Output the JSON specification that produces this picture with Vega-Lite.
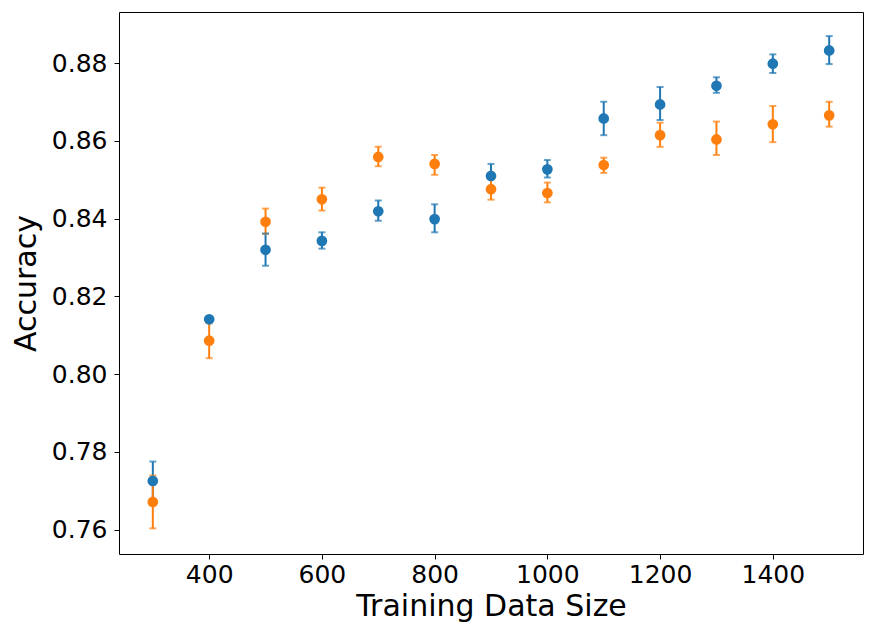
{
  "$schema": "https://vega.github.io/schema/vega-lite/v6.json",
  "width": 744,
  "height": 542,
  "autosize": {"type": "none"},
  "padding": {"left": 119, "top": 12, "right": 11, "bottom": 86},
  "background": "white",
  "config": {
    "view": {"stroke": "black", "strokeWidth": 1},
    "font": "DejaVu Sans",
    "axis": {
      "grid": false,
      "domain": false,
      "tickColor": "black",
      "tickSize": 5,
      "tickWidth": 1,
      "labelColor": "black",
      "labelFont": "DejaVu Sans",
      "labelFontSize": 25,
      "titleColor": "black",
      "titleFont": "DejaVu Sans",
      "titleFontSize": 30,
      "titleFontWeight": "normal"
    }
  },
  "data": {
    "values": [
      {"size": 300, "series": "A", "acc": 0.7725, "lo": 0.7675, "hi": 0.7775},
      {"size": 400, "series": "A", "acc": 0.8141, "lo": 0.8136, "hi": 0.8146},
      {"size": 500, "series": "A", "acc": 0.8320, "lo": 0.8279, "hi": 0.8362},
      {"size": 600, "series": "A", "acc": 0.8343, "lo": 0.8323, "hi": 0.8365},
      {"size": 700, "series": "A", "acc": 0.8419, "lo": 0.8395, "hi": 0.8447},
      {"size": 800, "series": "A", "acc": 0.8399, "lo": 0.8365, "hi": 0.8437},
      {"size": 900, "series": "A", "acc": 0.8510, "lo": 0.8479, "hi": 0.8541},
      {"size": 1000, "series": "A", "acc": 0.8527, "lo": 0.8506, "hi": 0.8551},
      {"size": 1100, "series": "A", "acc": 0.8658, "lo": 0.8615, "hi": 0.8701},
      {"size": 1200, "series": "A", "acc": 0.8694, "lo": 0.8654, "hi": 0.8739},
      {"size": 1300, "series": "A", "acc": 0.8742, "lo": 0.8724, "hi": 0.8764},
      {"size": 1400, "series": "A", "acc": 0.8799, "lo": 0.8775, "hi": 0.8823},
      {"size": 1500, "series": "A", "acc": 0.8833, "lo": 0.8798, "hi": 0.8870},
      {"size": 300, "series": "B", "acc": 0.7671, "lo": 0.7603, "hi": 0.7739},
      {"size": 400, "series": "B", "acc": 0.8086, "lo": 0.8041, "hi": 0.8131},
      {"size": 500, "series": "B", "acc": 0.8392, "lo": 0.8361, "hi": 0.8426},
      {"size": 600, "series": "B", "acc": 0.8450, "lo": 0.8421, "hi": 0.8480},
      {"size": 700, "series": "B", "acc": 0.8559, "lo": 0.8535, "hi": 0.8585},
      {"size": 800, "series": "B", "acc": 0.8541, "lo": 0.8513, "hi": 0.8564},
      {"size": 900, "series": "B", "acc": 0.8476, "lo": 0.8449, "hi": 0.8503},
      {"size": 1000, "series": "B", "acc": 0.8466, "lo": 0.8442, "hi": 0.8493},
      {"size": 1100, "series": "B", "acc": 0.8538, "lo": 0.8518, "hi": 0.8557},
      {"size": 1200, "series": "B", "acc": 0.8615, "lo": 0.8585, "hi": 0.8647},
      {"size": 1300, "series": "B", "acc": 0.8604, "lo": 0.8564, "hi": 0.8650},
      {"size": 1400, "series": "B", "acc": 0.8643, "lo": 0.8597, "hi": 0.8690},
      {"size": 1500, "series": "B", "acc": 0.8666, "lo": 0.8637, "hi": 0.8701}
    ]
  },
  "encoding": {
    "x": {
      "field": "size", "type": "quantitative",
      "scale": {"domain": [240, 1560], "nice": false, "zero": false},
      "axis": {"values": [400, 600, 800, 1000, 1200, 1400], "format": "d", "title": "Training Data Size", "labelPadding": 3, "titlePadding": 4}
    },
    "color": {
      "field": "series", "type": "nominal",
      "scale": {"domain": ["A", "B"], "range": ["#1f77b4", "#ff7f0e"]},
      "legend": null
    }
  },
  "layer": [
    {
      "mark": {"type": "rule", "strokeWidth": 2},
      "encoding": {
        "y": {
          "field": "lo", "type": "quantitative",
          "scale": {"domain": [0.7537, 0.8932], "nice": false, "zero": false},
          "axis": {"values": [0.76, 0.78, 0.8, 0.82, 0.84, 0.86, 0.88], "format": ".2f", "title": "Accuracy", "labelPadding": 7, "titlePadding": 10}
        },
        "y2": {"field": "hi"}
      }
    },
    {
      "mark": {"type": "tick", "orient": "horizontal", "size": 7, "thickness": 2},
      "encoding": {"y": {"field": "lo", "type": "quantitative"}}
    },
    {
      "mark": {"type": "tick", "orient": "horizontal", "size": 7, "thickness": 2},
      "encoding": {"y": {"field": "hi", "type": "quantitative"}}
    },
    {
      "mark": {"type": "circle", "size": 115, "opacity": 1},
      "encoding": {"y": {"field": "acc", "type": "quantitative"}}
    }
  ]
}
